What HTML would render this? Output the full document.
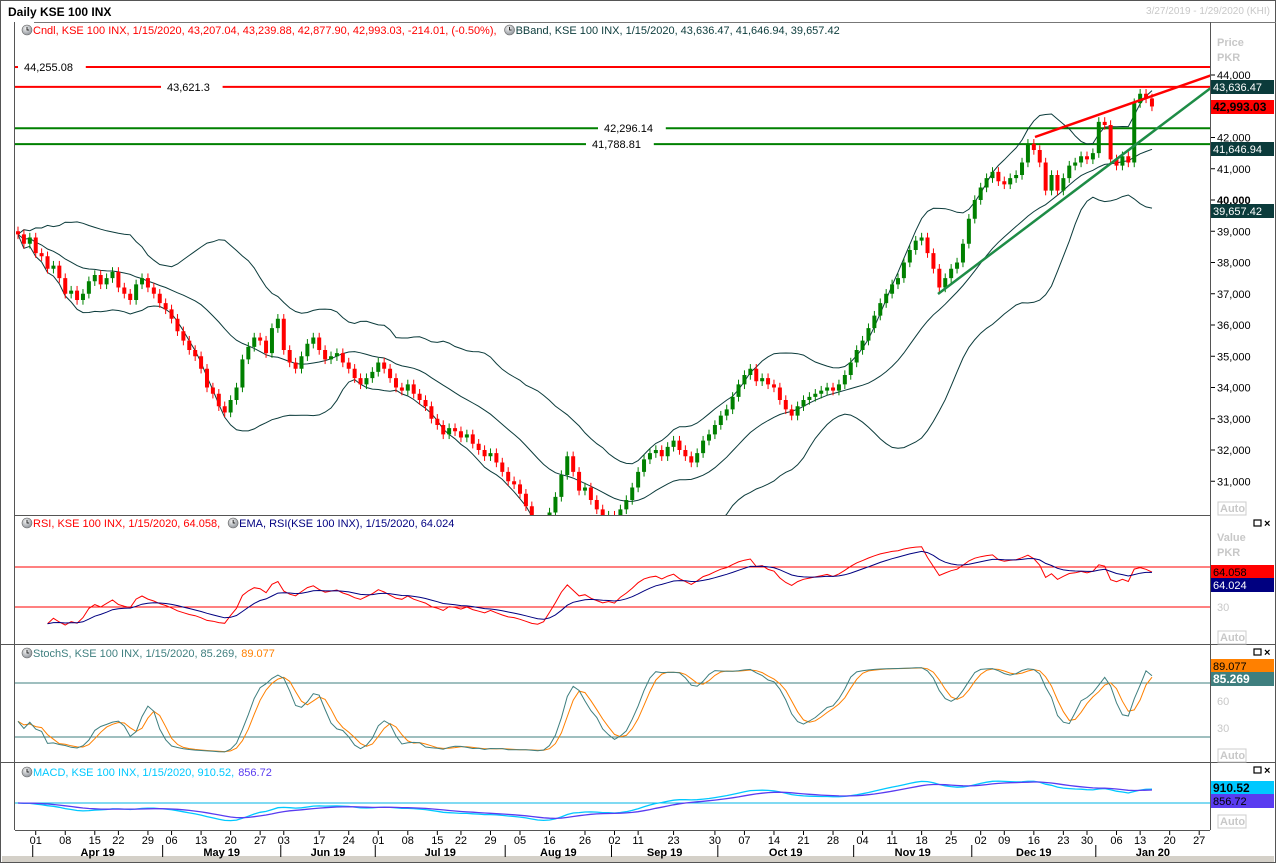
<!DOCTYPE html>
<html><head><meta charset="utf-8"><title>Daily KSE 100 INX</title>
<style>
html,body{margin:0;padding:0;background:#fff;}
svg{display:block;font-family:"Liberation Sans",sans-serif;}
</style></head>
<body>
<svg id="chart" width="1276" height="863" viewBox="0 0 1276 863" xmlns="http://www.w3.org/2000/svg">
<defs>
<clipPath id="cpP"><rect x="15" y="23" width="1195" height="492"/></clipPath>
<clipPath id="cpR"><rect x="15" y="516" width="1195" height="128"/></clipPath>
<clipPath id="cpS"><rect x="15" y="645" width="1195" height="117"/></clipPath>
<clipPath id="cpM"><rect x="15" y="763" width="1195" height="67"/></clipPath>
<radialGradient id="clk" cx="40%" cy="35%" r="70%"><stop offset="0" stop-color="#f4f4f4"/><stop offset="1" stop-color="#8a8f96"/></radialGradient>
</defs>
<rect x="0.5" y="0.5" width="1275" height="862" fill="#fff" stroke="#555"/>
<text x="8" y="16" font-size="12" font-weight="bold" fill="#000">Daily KSE 100 INX</text>
<text x="1270" y="14" font-size="10" fill="#c8c8c8" text-anchor="end">3/27/2019 - 1/29/2020 (KHI)</text>
<line x1="34" y1="22.5" x2="1276" y2="22.5" stroke="#777"/>
<line x1="14.5" y1="22" x2="14.5" y2="830" stroke="#555"/>
<line x1="1210.5" y1="22" x2="1210.5" y2="830" stroke="#555"/>
<line x1="15" y1="515.5" x2="1210" y2="515.5" stroke="#555"/>
<line x1="0" y1="644.5" x2="1276" y2="644.5" stroke="#555"/>
<line x1="0" y1="762.5" x2="1276" y2="762.5" stroke="#555"/>
<line x1="15" y1="830.5" x2="1210" y2="830.5" stroke="#555"/>
<rect x="2" y="856" width="1272" height="6" fill="#d4d0c8"/>
<g id="gP" clip-path="url(#cpP)"></g>
<g id="gR" clip-path="url(#cpR)"></g>
<g id="gS" clip-path="url(#cpS)"></g>
<g id="gM" clip-path="url(#cpM)"></g>
<g id="gA"></g>
</svg>
<script>
const closes=[38900,38600,38800,38300,38200,37800,37900,37500,37000,37100,
36800,37000,37400,37600,37300,37500,37700,37200,37000,36800,
37300,37500,37200,37000,36700,36500,36200,35800,35500,35200,
35000,34600,34000,33800,33400,33200,33600,34000,34900,35300,
35600,35500,35100,35900,36200,35200,34800,34600,35000,35400,
35600,35200,34900,35000,35100,34800,34600,34300,34100,34300,
34500,34800,34600,34300,34000,33900,34100,33800,33600,33400,
33000,32800,32500,32700,32600,32400,32500,32200,32000,31800,
31900,31600,31300,31000,30900,30600,30200,29700,29500,29600,
30000,30500,31200,31800,31300,30700,30800,30400,30100,29800,
29900,29700,30100,30400,30800,31300,31700,31900,32000,31800,
32100,32300,32000,31800,31600,31900,32300,32500,32800,33100,
33300,33700,34100,34400,34600,34200,34300,34100,34000,33600,
33300,33100,33400,33600,33700,33800,33900,34000,33900,34100,
34400,34800,35200,35500,35900,36300,36700,37000,37300,37500,
38000,38400,38700,38800,38300,37800,37200,37500,37800,38000,
38600,39400,40000,40400,40700,40900,40600,40500,40700,40800,
41200,41800,41600,41200,40300,40800,40300,40700,41100,41200,
41400,41300,41500,42500,42400,41300,41100,41400,41200,43100,
43400,43250,42993];
const firstOpen=39000;
const wickPts=150;
const hLevels=[44255.08,43621.3,42296.14,41788.81];
const hLabels=["44,255.08","43,621.3","42,296.14","41,788.81"];
const hColors=["#ff0000","#ff0000","#008000","#008000"];
const hLabelX=[22,165,602,590];
const priceTicks=[44000,42000,41000,40000,39000,38000,37000,36000,35000,34000,33000,32000,31000];
const tickLabels=["01","08","15","22","29","06","13","20","27","03","17","24","01","08","15","22","29","05","16","26","02","11","23","30","07","14","21","28","04","11","18","25","02","09","16","23","30","06","13","20","27"];
const tickIdx=[3,8,13,17,22,26,31,36,41,45,51,56,61,66,71,75,80,85,90,96,101,105,111,118,123,128,133,138,143,148,153,158,163,167,172,177,181,186,190,195,200];
const monthLabels=["Apr 19","May 19","Jun 19","Jul 19","Aug 19","Sep 19","Oct 19","Nov 19","Dec 19","Jan 20"];
const monthStartIdx=[3,25,45,61,83,101,119,142,162,183];
const monthEndIdx=[25,45,61,83,101,119,142,162,183,205];

const NS="http://www.w3.org/2000/svg";
const X0=18, DX=5.906;
const xS=i=>X0+i*DX;
const yP=v=>75+(44000-v)*0.03125;
const yR=v=>607-(v-30);
const yS=v=>737-(v-20)*0.9;
const yM=v=>803-v*0.016;
function mk(tag,attrs,parent,txt){const e=document.createElementNS(NS,tag);for(const k in attrs)e.setAttribute(k,attrs[k]);if(txt!==undefined)e.textContent=txt;parent.appendChild(e);return e;}
const gP=document.getElementById('gP'),gR=document.getElementById('gR'),gS=document.getElementById('gS'),gM=document.getElementById('gM'),gA=document.getElementById('gA');
const n=closes.length;
const opens=closes.map((c,i)=>i===0?firstOpen:closes[i-1]);
const highs=closes.map((c,i)=>Math.max(c,opens[i])+wickPts);
const lows=closes.map((c,i)=>Math.min(c,opens[i])-wickPts);
function poly(vals,ys,color,parent,name,w){let d='';vals.forEach((v,i)=>{if(v==null||isNaN(v))return;d+=(d?'L':'M')+xS(i).toFixed(1)+','+ys(v).toFixed(1);});const p=mk('path',{d:d,fill:'none',stroke:color,'stroke-width':w||1},parent);return p;}

hLevels.forEach((v,k)=>{const y=yP(v);const lw=hLabels[k].length*6.2+8;
 const a=mk('line',{x1:15,y1:y,x2:hLabelX[k]-4,y2:y,stroke:hColors[k],'stroke-width':2},gP);
 const b=mk('line',{x1:hLabelX[k]+lw,y1:y,x2:1210,y2:y,stroke:hColors[k],'stroke-width':2},gP);
 const t=mk('text',{x:hLabelX[k]+2,y:y+4,'font-size':11,fill:'#000'},gP,hLabels[k]);});

const mid=[],up=[],lo=[];
for(let i=0;i<n;i++){const s=Math.max(0,i-19);const w=closes.slice(s,i+1);const m=w.reduce((a,b)=>a+b,0)/w.length;const sd=Math.sqrt(w.reduce((a,b)=>a+(b-m)*(b-m),0)/w.length);mid.push(m);up.push(m+2*sd);lo.push(m-2*sd);}
poly(up,yP,'#0b3b3b',gP,'bband-upper');poly(mid,yP,'#0b3b3b',gP,'bband-middle');poly(lo,yP,'#0b3b3b',gP,'bband-lower');

for(let i=0;i<n;i++){const up1=closes[i]>=opens[i];const col=up1?'#008000':'#ff0000';const x=xS(i);
 const w=mk('line',{x1:x,y1:yP(highs[i]),x2:x,y2:yP(lows[i]),stroke:col,'stroke-width':1},gP);
 const t=Math.min(yP(opens[i]),yP(closes[i]));const h=Math.max(1.5,Math.abs(yP(opens[i])-yP(closes[i])));
 const r=mk('rect',{x:x-2,y:t,width:4,height:h,fill:col},gP);}

const tl1=mk('line',{x1:1035,y1:137,x2:1212,y2:75,stroke:'#ff0000','stroke-width':2.5},gP);
const tl2=mk('line',{x1:938,y1:294,x2:1212,y2:87,stroke:'#1e8c46','stroke-width':2.5},gP);

const rsi=new Array(n).fill(null);let ag=0,al=0;
for(let i=1;i<n;i++){const d=closes[i]-closes[i-1];const g=Math.max(d,0),l=Math.max(-d,0);if(i<=14){ag+=g/14;al+=l/14;}else{ag=(ag*13+g)/14;al=(al*13+l)/14;}if(i>=5){rsi[i]=al===0?100:100-100/(1+ag/al);}}
const rema=new Array(n).fill(null);let e=null;for(let i=0;i<n;i++){if(rsi[i]==null)continue;e=e==null?rsi[i]:e+(rsi[i]-e)*2/10;rema[i]=e;}
[70,30].forEach(v=>{const l=mk('line',{x1:15,y1:yR(v),x2:1210,y2:yR(v),stroke:'#ff0000'},gR);});
poly(rsi,yR,'#ff0000',gR,'rsi-line');poly(rema,yR,'#000080',gR,'rsi-ema-line');

const fk=new Array(n).fill(null);for(let i=0;i<n;i++){const s=Math.max(0,i-13);const hh=Math.max(...highs.slice(s,i+1)),ll=Math.min(...lows.slice(s,i+1));fk[i]=(closes[i]-ll)/(hh-ll)*100;}
const sma3=a=>a.map((v,i)=>{const w=a.slice(Math.max(0,i-2),i+1).filter(x=>x!=null);return w.reduce((p,q)=>p+q,0)/w.length;});
const sk=sma3(fk),sdl=sma3(sk);
[80,20].forEach(v=>{const l=mk('line',{x1:15,y1:yS(v),x2:1210,y2:yS(v),stroke:'#3f7f7f'},gS);});
poly(sdl,yS,'#ff8000',gS,'stoch-d-line');poly(sk,yS,'#3f7f7f',gS,'stoch-k-line');

const ema=(a,p)=>{let r=[],v=a[0];a.forEach((x,i)=>{v=i?v+(x-v)*2/(p+1):x;r.push(v);});return r;};
const e12=ema(closes,12),e26=ema(closes,26);const macd=e12.map((v,i)=>v-e26[i]);const sig=ema(macd,9);
const z=mk('line',{x1:15,y1:yM(0),x2:1210,y2:yM(0),stroke:'#00b4e6'},gM);
poly(macd,yM,'#00c8ff',gM,'macd-line',1.3);poly(sig,yM,'#5a3cf0',gM,'macd-signal-line',1.3);

function legend(x,y,parts,name){const g=mk('g',{},gA);let cx=x;
 parts.forEach(p=>{if(p.icon){mk('circle',{cx:cx+5,cy:y-4,r:5,fill:'url(#clk)',stroke:'#666','stroke-width':0.6},g);mk('path',{d:`M${cx+5},${y-7}V${y-4}H${cx+7}`,stroke:'#000',fill:'none','stroke-width':0.8},g);cx+=11;}
 const t=mk('text',{x:cx,y:y,'font-size':11,fill:p.c},g,p.t);let w;try{w=t.getComputedTextLength();}catch(err){w=0;}if(!w)w=p.t.length*5.6;cx+=w+(p.gap||0);});}
legend(22,34,[{icon:1,t:"Cndl, KSE 100 INX, 1/15/2020, 43,207.04, 43,239.88, 42,877.90, 42,993.03, -214.01, (-0.50%),",c:"#ff0000",gap:8},{icon:1,t:"BBand, KSE 100 INX, 1/15/2020, 43,636.47, 41,646.94, 39,657.42",c:"#0b3b3b"}],'price-legend');
legend(22,527,[{icon:1,t:"RSI, KSE 100 INX, 1/15/2020, 64.058,",c:"#ff0000",gap:8},{icon:1,t:"EMA, RSI(KSE 100 INX), 1/15/2020, 64.024",c:"#000080"}],'rsi-legend');
legend(22,657,[{icon:1,t:"StochS, KSE 100 INX, 1/15/2020, 85.269,",c:"#3f7f7f",gap:4},{t:"89.077",c:"#ff8000"}],'stoch-legend');
legend(22,776,[{icon:1,t:"MACD, KSE 100 INX, 1/15/2020, 910.52,",c:"#00c8ff",gap:4},{t:"856.72",c:"#5a3cf0"}],'macd-legend');

function rtext(y,t,c,b,name){const e=mk('text',{x:1217,y:y,'font-size':11,fill:c||'#000','font-weight':b?'bold':'normal'},gA,t);return e;}
rtext(46,'Price','#c8c8c8',1,'price-axis-title');rtext(61,'PKR','#c8c8c8',1,'price-axis-unit');
priceTicks.forEach(v=>{const y=yP(v);mk('line',{x1:1211,y1:y,x2:1215,y2:y,stroke:'#000'},gA);rtext(y+4,v.toLocaleString('en-US'),'#000',v===40000,'price-tick');});
function tag(y,t,bg,fg,b,name){const g=mk('g',{},gA);mk('rect',{x:1211,y:y-7,width:63,height:14,fill:bg},g);mk('text',{x:1213,y:y+4,'font-size':b?12:11,'font-weight':b?'bold':'normal',fill:fg},g,t);}
tag(87,'43,636.47','#0b3b3b','#fff',0,'bband-upper-tag');tag(107,'42,993.03','#ff0000','#000',1,'close-tag');tag(149,'41,646.94','#0b3b3b','#fff',0,'bband-mid-tag');tag(211,'39,657.42','#0b3b3b','#fff',0,'bband-lower-tag');
function auto(y){const g=mk('g',{},gA);mk('rect',{x:1218,y:y-10,width:28,height:13,fill:'#fff',stroke:'#ccc'},g);mk('text',{x:1220,y:y,'font-size':11,'font-weight':'bold',fill:'#c8c8c8'},g,'Auto');}
auto(512);auto(641);auto(759);auto(825);
function winBtns(y){const g=mk('g',{},gA);mk('rect',{x:1254,y:y-5,width:7,height:6,fill:'none',stroke:'#000','stroke-width':1.2},g);mk('text',{x:1264,y:y+2,'font-size':11,'font-weight':'bold'},g,'×');}
winBtns(525);winBtns(654);winBtns(772);
rtext(541,'Value','#c8c8c8',1,'rsi-axis-title');rtext(556,'PKR','#c8c8c8',1,'rsi-axis-unit');
tag(572,'64.058','#ff0000','#000',0,'rsi-tag');tag(585,'64.024','#000080','#fff',0,'rsi-ema-tag');
rtext(yR(30)+4,'30','#c8c8c8',0,'rsi-tick');
tag(666,'89.077','#ff8000','#000',0,'stoch-d-tag');tag(679,'85.269','#3f7f7f','#fff',1,'stoch-k-tag');
rtext(yS(60)+4,'60','#c8c8c8',0,'stoch-tick');rtext(yS(30)+4,'30','#c8c8c8',0,'stoch-tick');
tag(788,'910.52','#00c8ff','#000',1,'macd-tag');tag(801,'856.72','#5a3cf0','#000',0,'macd-signal-tag');

tickLabels.forEach((t,k)=>{const x=xS(tickIdx[k]);mk('line',{x1:x,y1:831,x2:x,y2:835,stroke:'#000'},gA);const e=mk('text',{x:x,y:844,'font-size':11,'text-anchor':'middle'},gA,t);});
monthLabels.forEach((m,k)=>{const a=xS(monthStartIdx[k])-3,b=xS(monthEndIdx[k])-3;mk('line',{x1:a,y1:845,x2:a,y2:857,stroke:'#000'},gA);
 const e=mk('text',{x:(Math.max(a,15)+Math.min(b,1210))/2,y:856,'font-size':11,'font-weight':'bold','text-anchor':'middle'},gA,m);});
</script>
</body></html>
